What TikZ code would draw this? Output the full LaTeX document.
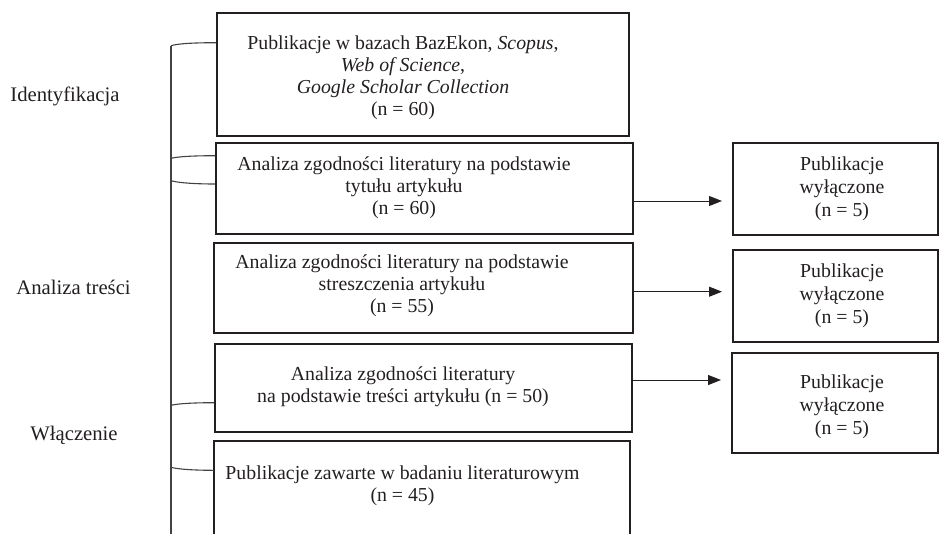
\documentclass[tikz,border=0pt]{standalone}
\usepackage{fontspec}
\setmainfont{Liberation Serif}
\usetikzlibrary{arrows.meta}
\definecolor{ink}{HTML}{231F20}
\begin{document}
\begin{tikzpicture}[x=1pt,y=-1pt,
  boxnode/.style={draw=ink, line width=2pt, inner sep=0pt, rectangle},
  txt/.style={text=ink, font=\fontsize{19.8pt}{22pt}\selectfont, align=center, inner sep=0pt, anchor=base},
  rtxt/.style={text=ink, font=\fontsize{19.8pt}{23pt}\selectfont, align=center, inner sep=0pt, anchor=base},
  stage/.style={text=ink, font=\fontsize{20.7pt}{23pt}\selectfont, inner sep=0pt, anchor=base},
  arr/.style={draw=ink, line width=1pt, -{Triangle[length=13pt,width=10pt]}, shorten >=10pt},
  brk/.style={draw=ink!85, line width=1.1pt}]
\useasboundingbox (0,0) rectangle (939,533);
% main boxes
\node[boxnode, minimum width=412pt, minimum height=123pt] (b1) at (423,74.5) {};
\node[boxnode, minimum width=417pt, minimum height=91pt] (b2) at (424.5,188.5) {};
\node[boxnode, minimum width=419pt, minimum height=90pt] (b3) at (423.5,288) {};
\node[boxnode, minimum width=417pt, minimum height=88pt] (b4) at (423.5,388) {};
\node[inner sep=0pt, minimum width=416pt, minimum height=104pt] (b5) at (422,493) {};
\draw[draw=ink, line width=2pt] (b5.south west) -- (b5.north west) -- (b5.north east) -- (b5.south east);
% right boxes
\node[boxnode, minimum width=204.5pt, minimum height=92pt] (r1) at (835.25,189) {};
\node[boxnode, minimum width=204.5pt, minimum height=92pt] (r2) at (835.25,296) {};
\node[boxnode, minimum width=205.5pt, minimum height=100pt] (r3) at (834.75,403) {};
% texts (anchored at the baseline of the last line)
\node[txt] (t1) at (403,115) {Publikacje w bazach BazEkon, \textit{Scopus},\\ \textit{Web of Science},\\ \textit{Google Scholar Collection}\\ (n = 60)};
\node[txt] (t2) at (404,214) {Analiza zgodności literatury na podstawie\\ tytułu artykułu\\ (n = 60)};
\node[txt] (t3) at (402,312) {Analiza zgodności literatury na podstawie\\ streszczenia artykułu\\ (n = 55)};
\node[txt] (t4) at (403,402) {Analiza zgodności literatury\\ na podstawie treści artykułu (n = 50)};
\node[txt] (t5) at (402.5,501) {Publikacje zawarte w badaniu literaturowym\\ (n = 45)};
\node[rtxt] (u1) at (842,216) {Publikacje\\ wyłączone\\ (n = 5)};
\node[rtxt] (u2) at (842,323) {Publikacje\\ wyłączone\\ (n = 5)};
\node[rtxt] (u3) at (842,434) {Publikacje\\ wyłączone\\ (n = 5)};
% stage labels
\node[stage] (s1) at (65,101.7) {Identyfikacja};
\node[stage] (s2) at (73.5,294.3) {Analiza treści};
\node[stage] (s3) at (74,440) {Włączenie};
% arrows
\coordinate (a1) at (0,201);
\coordinate (a2) at (0,291.7);
\coordinate (a3) at (0,380);
\draw[arr] (b2.east |- a1) -- (r1.west |- a1);
\draw[arr] (b3.east |- a2) -- (r2.west |- a2);
\draw[arr] (b4.east |- a3) -- (r3.west |- a3);
% bracket
\coordinate (v0) at (171,45.7);
\coordinate (v9) at (171,545);
\draw[brk] (v0) -- (v9);
\draw[brk] (v0) .. controls (178,43.5) and (195,42.7) .. (b1.west |- 0,42.7);
\draw[brk] (171,158.3) .. controls (178,156.5) and (195,155.7) .. (b2.west |- 0,155.7);
\draw[brk] (171,180.7) .. controls (178,182.8) and (195,184) .. (b2.west |- 0,184);
\draw[brk] (171,405.3) .. controls (178,403.5) and (195,402.7) .. (b4.west |- 0,402.7);
\draw[brk] (171,467.3) .. controls (178,469.3) and (195,470.3) .. (b5.west |- 0,470.3);
\end{tikzpicture}
\end{document}
